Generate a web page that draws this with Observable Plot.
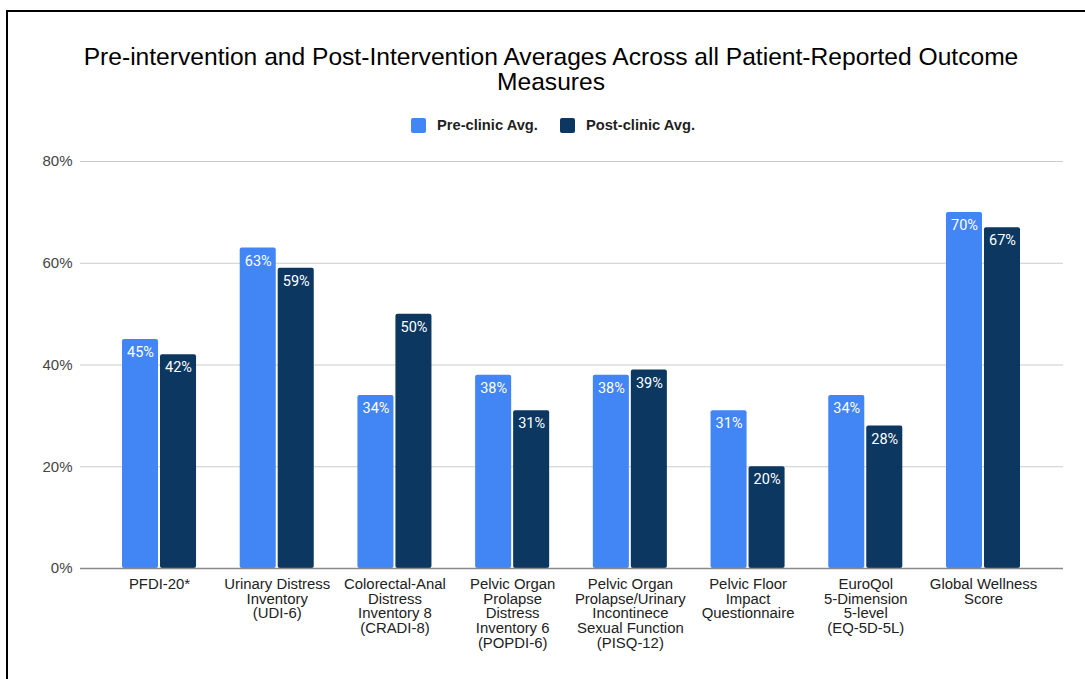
<!DOCTYPE html>
<html>
<head>
<meta charset="utf-8">
<script src="https://cdn.jsdelivr.net/npm/d3@7"></script>
<script src="https://cdn.jsdelivr.net/npm/@observablehq/plot@0.6"></script>
<style>
  html, body { margin: 0; padding: 0; background: #fff; overflow: hidden; }
  body { width: 1085px; height: 679px; position: relative; font-family: "Liberation Sans", Arial, sans-serif; }
  .frame { position: absolute; left: 6px; top: 10px; width: 1200px; height: 800px; border: 2px solid #000; box-sizing: border-box; }
  .title { position: absolute; left: 0; top: 44px; width: 1102px; text-align: center; font-size: 24.6px; line-height: 25px; color: #000; }
  .legend { position: absolute; left: 0; top: 117px; width: 1106px; display: flex; justify-content: center; align-items: center; font-size: 14.7px; font-weight: bold; color: #1f1f1f; }
  .legend .item { display: flex; align-items: center; margin: 0 11px; }
  .legend .sw { width: 15px; height: 15px; border-radius: 2px; margin-right: 11px; }
  #chart { position: absolute; left: 0; top: 145px; }
</style>
</head>
<body>
<div class="frame"></div>
<div class="title">Pre-intervention and Post-Intervention Averages Across all Patient-Reported Outcome<br>Measures</div>
<div class="legend" id="legend"></div>
<div id="chart"></div>
<script>
// Outcome measures (line breaks follow the axis label wrapping)
const categories = [
  "PFDI-20*",
  "Urinary Distress\nInventory\n(UDI-6)",
  "Colorectal-Anal\nDistress\nInventory 8\n(CRADI-8)",
  "Pelvic Organ\nProlapse\nDistress\nInventory 6\n(POPDI-6)",
  "Pelvic Organ\nProlapse/Urinary\nIncontinece\nSexual Function\n(PISQ-12)",
  "Pelvic Floor\nImpact\nQuestionnaire",
  "EuroQol\n5-Dimension\n5-level\n(EQ-5D-5L)",
  "Global Wellness\nScore"
];

// Averages in percent
const preClinic = [45, 63, 34, 38, 38, 31, 34, 70];
const postClinic = [42, 59, 50, 31, 39, 20, 28, 67];

const seriesNames = ["Pre-clinic Avg.", "Post-clinic Avg."];
const seriesColors = ["#4285f4", "#0b3761"];
const yTicks = [0, 20, 40, 60, 80];

const rows = categories.map((c, i) => ({category: c, pre: preClinic[i], post: postClinic[i]}));

// Legend
const legend = document.getElementById("legend");
seriesNames.forEach((name, i) => {
  const item = document.createElement("div");
  item.className = "item";
  const sw = document.createElement("span");
  sw.className = "sw";
  sw.style.background = seriesColors[i];
  const label = document.createElement("span");
  label.textContent = name;
  item.append(sw, label);
  legend.append(item);
});

const barHalf = 38; // each bar fills half the band minus a small gap

const chart = Plot.plot({
  width: 1085,
  height: 534,
  marginTop: 16,
  marginBottom: 111,
  marginLeft: 80,
  marginRight: 22,
  style: {fontFamily: "'Liberation Sans', Arial, sans-serif", fontSize: "15px", color: "#444", background: "transparent"},
  x: {domain: categories, paddingInner: 0.371, paddingOuter: 0, insetLeft: 42, insetRight: 43, round: false, axis: null},
  y: {domain: [0, 80], ticks: yTicks, tickSize: 0, tickPadding: 8, tickFormat: d => d + "%", label: null},
  marks: [
    Plot.ruleY(yTicks.filter(d => d > 0), {stroke: "#cccccc", strokeWidth: 1}),
    Plot.barY(rows, {x: "category", y: "pre", fill: seriesColors[0], insetRight: barHalf, rx: 2}),
    Plot.barY(rows, {x: "category", y: "post", fill: seriesColors[1], insetLeft: barHalf, rx: 2}),
    Plot.ruleY([0], {stroke: "#8a8a8a", strokeWidth: 1.5}),
    Plot.text(rows, {x: "category", y: "pre", text: d => d.pre + "%", dx: -19, dy: 13, fill: "#fff", fontSize: 14.5, fontWeight: 400, fontFamily: "Roboto, sans-serif"}),
    Plot.text(rows, {x: "category", y: "post", text: d => d.post + "%", dx: 19, dy: 13, fill: "#fff", fontSize: 14.5, fontWeight: 400, fontFamily: "Roboto, sans-serif"}),
    Plot.text(categories, {x: d => d, y: () => 0, text: d => d, lineAnchor: "top", dy: 10, lineHeight: 0.99, fontSize: 14.9, fill: "#222"})
  ]
});
document.getElementById("chart").append(chart);
</script>
</body>
</html>
